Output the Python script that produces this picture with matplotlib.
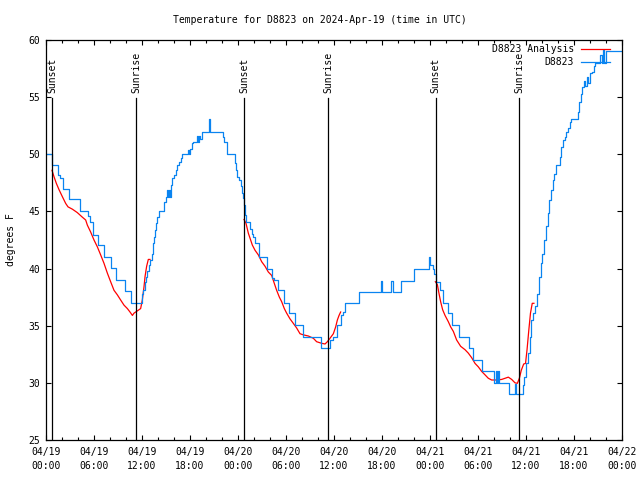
import matplotlib
matplotlib.use('Agg')
import matplotlib.pyplot as plt
import matplotlib.dates as mdates
import matplotlib.transforms as mtransforms
import pandas as pd

# --- data (hours after 2024-04-19 00:00 UTC, degrees F) ---
obs_hours = [0.0, 0.75, 1.45, 1.8, 2.13, 2.88, 4.25, 5.25, 5.5, 5.83, 6.54, 7.29,
             8.08, 8.71, 9.83, 10.6, 12.0, 12.15, 12.375, 12.5, 12.67, 12.83, 13.0,
             13.21, 13.42, 13.54, 13.63, 13.75, 13.92, 14.13, 14.79, 14.96, 15.08,
             15.2, 15.33, 15.46, 15.58, 15.79, 16.04, 16.21, 16.42, 16.67, 16.83,
             16.96, 17.79, 17.92, 18.04, 18.21, 18.42, 18.83, 18.96, 19.08, 19.21,
             19.46, 20.38, 20.54, 22.08, 22.29, 22.58, 22.67, 23.63, 23.75, 23.92,
             24.17, 24.33, 24.46, 24.58, 24.79, 24.88, 25.0, 25.5, 25.71, 25.92,
             26.13, 26.63, 27.58, 28.29, 28.54, 29.04, 29.75, 30.38, 31.08, 32.08,
             34.33, 35.5, 35.83, 36.33, 36.83, 37.17, 37.38, 39.17, 41.83, 42.04,
             43.13, 43.33, 44.33, 46.04, 47.83, 48.0, 48.33, 48.54, 48.71, 49.25,
             49.67, 50.29, 50.71, 51.67, 52.88, 53.42, 54.46, 56.0, 56.2, 56.35,
             56.5, 56.65, 57.88, 58.63, 58.75, 59.63, 59.79, 60.05, 60.21, 60.44,
             60.65, 60.86, 61.08, 61.33, 61.63, 61.84, 62.05, 62.26, 62.48, 62.69,
             62.9, 63.11, 63.33, 63.54, 63.75, 64.19, 64.4, 64.61, 64.83, 65.04,
             65.25, 65.46, 65.6, 66.45, 66.63, 66.83, 66.96, 67.2, 67.4, 67.6, 67.8,
             68.0, 68.24, 68.46, 68.67, 69.3, 69.45, 69.6, 69.75, 69.95, 72.0]
obs_temp = [50.0, 49.06, 48.2, 47.9, 47.0, 46.06, 45.0, 44.6, 44.05, 42.94, 42.03, 41.0,
            40.05, 39.0, 38.0, 37.0, 37.8, 38.1, 38.8, 39.3, 39.8, 40.3, 40.75,
            41.3, 42.2, 42.8, 43.4, 44.0, 44.5, 45.0, 45.85, 46.3, 46.9,
            46.3, 46.9, 46.3, 47.3, 47.9, 48.2, 48.6, 49.06, 49.35, 49.65,
            50.0, 50.4, 50.0, 50.5, 50.96, 51.1, 51.6, 51.1, 51.6, 51.3,
            51.98, 53.06, 51.98, 51.5, 51.1, 50.67, 50.0, 49.2, 48.6, 48.04,
            47.75, 47.2, 46.6, 46.15, 45.56, 44.7, 44.1, 43.5, 43.0, 42.8,
            42.2, 41.04, 40.0, 39.15, 39.0, 38.1, 36.96, 36.1, 35.06, 34.04,
            33.03, 33.75, 34.04, 35.06, 35.9, 36.2, 36.96, 37.98, 38.94, 37.98,
            38.94, 37.98, 38.94, 39.96, 40.99, 40.3, 40.0, 39.5, 38.85, 38.1,
            36.96, 36.1, 35.06, 34.0, 33.03, 32.0, 31.07, 29.96, 31.0, 30.0,
            31.0, 30.0, 29.0, 29.9, 29.0, 29.8, 30.5, 31.7, 32.6, 34.04,
            35.5, 36.1, 36.7, 37.8, 39.3, 40.46, 41.3, 42.5, 43.7, 44.84,
            46.0, 46.9, 47.75, 48.3, 49.06, 49.8, 50.67, 51.25, 51.54, 51.98,
            52.3, 52.85, 53.06, 53.7, 54.6, 55.3, 55.9, 56.4, 56.0, 56.8, 56.2,
            57.1, 57.2, 57.7, 58.0, 58.7, 58.0, 59.1, 58.0, 59.0, 59.0]

ana1_hours = [0.75, 1.0, 1.29, 1.63, 2.04, 2.46, 2.75, 3.29, 3.91, 4.54, 4.96, 5.17,
              5.58, 6.0, 6.42, 6.83, 7.25, 7.67, 8.08, 8.5, 8.92, 9.33, 9.75, 10.17,
              10.5, 10.8, 11.0, 11.42, 11.83, 12.04, 12.25, 12.38, 12.58, 12.79, 13.0]
ana1_temp = [48.6, 48.04, 47.46, 46.9, 46.3, 45.7, 45.4, 45.2, 44.9, 44.5, 44.25, 43.8,
             43.2, 42.5, 41.9, 41.2, 40.46, 39.6, 38.85, 38.1, 37.7, 37.25, 36.8, 36.5,
             36.2, 35.9, 36.1, 36.3, 36.5, 37.25, 38.4, 39.3, 40.2, 40.8, 40.8]
ana2_hours = [24.75, 25.0, 25.29, 25.58, 25.79, 26.13, 26.54, 26.96, 27.38, 27.79,
              28.21, 28.54, 28.83, 29.17, 29.46, 29.79, 30.08, 30.5, 30.92, 31.33,
              31.75, 32.17, 32.79, 33.42, 33.83, 34.46, 34.88, 35.17, 35.5, 35.92,
              36.21, 36.42, 36.63, 36.83]
ana2_temp = [44.3, 43.96, 43.1, 42.5, 42.06, 41.6, 41.2, 40.6, 40.2, 39.7,
             39.4, 38.7, 38.1, 37.5, 37.1, 36.5, 36.1, 35.6, 35.2, 34.8,
             34.3, 34.2, 34.1, 33.9, 33.6, 33.46, 33.4, 33.6, 33.9, 34.3,
             34.9, 35.5, 35.9, 36.2]
ana3_hours = [48.67, 48.92, 49.13, 49.33, 49.58, 49.88, 50.29, 50.58, 50.92, 51.33,
              51.83, 52.38, 52.79, 53.21, 53.63, 54.04, 54.46, 54.88, 55.29, 55.71,
              56.33, 56.96, 57.38, 57.79, 58.21, 58.63, 58.92, 59.17, 59.41, 59.71,
              59.94, 60.13, 60.35, 60.56, 60.78, 60.99]
ana3_temp = [38.85, 38.6, 37.8, 37.1, 36.4, 35.9, 35.35, 34.9, 34.5, 33.75,
             33.2, 32.9, 32.6, 32.2, 31.7, 31.4, 31.0, 30.7, 30.4, 30.25,
             30.25, 30.3, 30.4, 30.5, 30.3, 30.0, 29.96, 30.4, 31.1, 31.65,
             31.7, 32.9, 34.6, 36.1, 36.96, 36.96]

sun_hours = [0.78, 11.3, 24.8, 35.3, 48.7, 59.17]
sun_labels = ['Sunset', 'Sunrise', 'Sunset', 'Sunrise', 'Sunset', 'Sunrise']

title = 'Temperature for D8823 on 2024-Apr-19 (time in UTC)'
base = pd.Timestamp('2024-04-19 00:00')


def to_time(hours):
    return base + pd.to_timedelta(hours, unit='h')


font = 'DejaVu Sans Mono'
fs = 7
plt.rcParams['font.family'] = font
plt.rcParams['font.size'] = fs

fig = plt.figure(figsize=(6.4, 4.8), dpi=100)
ax = fig.add_axes([46 / 640, 40 / 480, 576 / 640, 400 / 480])

blue = '#0a84f0'
red = '#ff0000'

# analysis first (legend order), obs on top
ana_line = None
for hh, tt in [(ana1_hours, ana1_temp), (ana2_hours, ana2_temp), (ana3_hours, ana3_temp)]:
    ana_line, = ax.plot(to_time(hh), tt, color=red, lw=0.9)
obs_line, = ax.plot(to_time(obs_hours), obs_temp, color=blue, lw=0.9,
                    drawstyle='steps-post')

# sunrise / sunset markers
trans = mtransforms.blended_transform_factory(ax.transData, ax.transAxes)
for h, lab in zip(sun_hours, sun_labels):
    t = mdates.date2num(to_time(h))
    ax.plot([t, t], [0, 0.855], color='black', lw=0.9, transform=trans)
    ax.text(t, 0.868, lab, rotation=90, ha='center', va='bottom',
            transform=trans, fontsize=fs)

ax.set_xlim(to_time(0), to_time(72))
ax.set_ylim(25, 60)
ax.set_yticks(range(25, 61, 5))

ax.xaxis.set_major_locator(mdates.HourLocator(byhour=[0, 6, 12, 18]))
ax.xaxis.set_minor_locator(mdates.HourLocator(interval=2))
ax.xaxis.set_major_formatter(mdates.DateFormatter('%m/%d\n%H:%M'))
for lab in ax.get_xticklabels():
    lab.set_linespacing(1.5)

ax.tick_params(which='both', direction='in', top=True, right=True, width=0.8)
ax.tick_params(which='major', length=3.6, labelsize=fs)
ax.tick_params(which='minor', length=2.2)
ax.tick_params(axis='x', pad=5)
ax.tick_params(axis='y', pad=4)
for sp in ax.spines.values():
    sp.set_linewidth(0.9)

ax.set_ylabel('degrees F', fontsize=fs, labelpad=9)
fig.text(0.5, 1 - 20 / 480, title, ha='center', va='center', fontsize=fs)

ax.legend([ana_line, obs_line], ['D8823 Analysis', 'D8823'], loc='upper right',
          bbox_to_anchor=((610 - 46) / 576, (440 - 44) / 400), borderaxespad=0,
          borderpad=0, frameon=False, markerfirst=False, handlelength=3.0,
          handletextpad=0.7, labelspacing=0.35, fontsize=fs)

fig.savefig('out.png', dpi=100)
